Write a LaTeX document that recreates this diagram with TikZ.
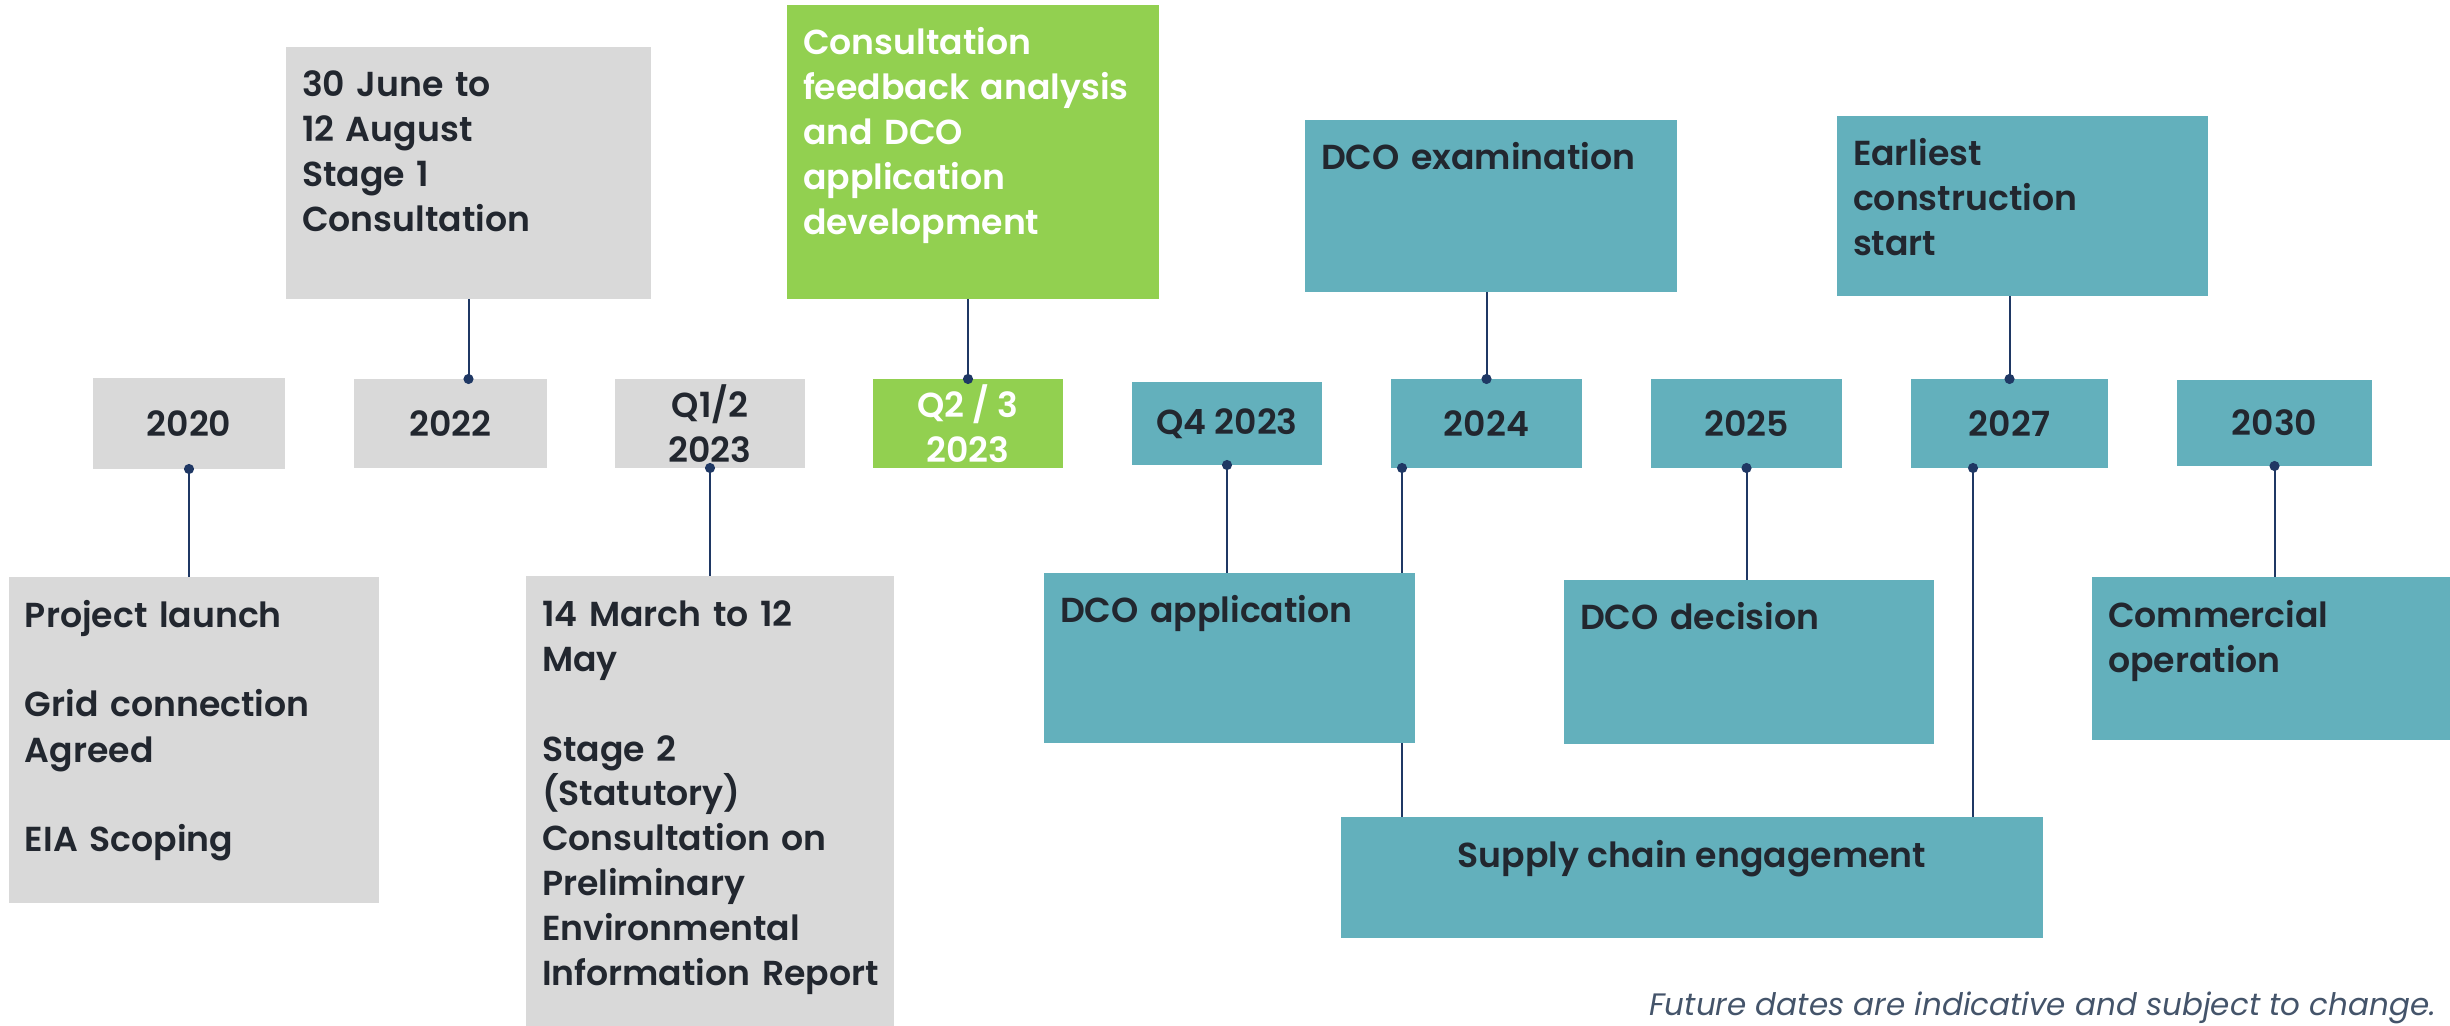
\documentclass[tikz,border=0pt]{standalone}
\usepackage{fontspec}
\setmainfont{Poppins}[BoldFont={Poppins SemiBold}]
\usetikzlibrary{arrows.meta}
\definecolor{paper}{HTML}{D9D9D9}
\definecolor{sea}{HTML}{63B0BC}
\definecolor{leaf}{HTML}{92D050}
\definecolor{ink}{HTML}{22272F}
\definecolor{navy}{HTML}{1F3864}
\definecolor{note}{HTML}{44546A}
\tikzset{every node/.style={inner sep=0pt, outer sep=0pt}}

\begin{document}
\begin{tikzpicture}[
            x=0.3pt, y=-0.3pt,
            font=\fontsize{10.4}{13.5}\selectfont\bfseries,
            card/.style 2 args={anchor=north west, minimum width=#1*0.3pt, minimum height=#2*0.3pt},
            greycard/.style={fill=paper, text=ink},
            seacard/.style={fill=sea, text=ink},
            leafcard/.style={fill=leaf, text=white},
            year/.style={align=center},
            txt/.style={anchor=base west, align=left, text width=115pt},
            tie/.style={draw=navy, line width=0.6pt},
            dotdown/.style={{Circle[length=3pt]}-, shorten <=-1.5pt},
            dotup/.style={-{Circle[length=3pt]}, shorten >=-1.5pt}
            ]
            \useasboundingbox (0,0) rectangle (2450,1026);

            % years
            \node[card={192}{91}, greycard, year] (y2020) at (93,378) {2020};
            \node[card={193}{89}, greycard, year] (y2022) at (354,379) {2022};
            \node[card={190}{89}, greycard, year] (yq12) at (615,379) {Q1/2\\2023};
            \node[card={190}{89}, leafcard, year] (yq23) at (873,379) {Q2 / 3\\2023};
            \node[card={190}{83}, seacard, year] (yq4) at (1132,382) {Q4 2023};
            \node[card={191}{89}, seacard, year] (y2024) at (1391,379) {2024};
            \node[card={191}{89}, seacard, year] (y2025) at (1651,379) {2025};
            \node[card={197}{89}, seacard, year] (y2027) at (1911,379) {2027};
            \node[card={195}{86}, seacard, year] (y2030) at (2177,380) {2030};

            % upper row
            \node[card={365}{252}, greycard] (june) at (286,47) {};
            \node[txt, text=ink] (t-june) at ([shift={(16,50)}]june.north west)
                {30 June to\\12 August\\Stage 1\\Consultation};
            \node[card={372}{294}, leafcard] (consult) at (787,5) {};
            \node[txt, text=white] (t-consult) at ([shift={(16,50)}]consult.north west)
                {Consultation\\feedback analysis\\and DCO\\application\\development};
            \node[card={372}{172}, seacard] (exam) at (1305,120) {};
            \node[txt, text=ink] (t-exam) at ([shift={(16,50)}]exam.north west) {DCO examination};
            \node[card={371}{180}, seacard] (earliest) at (1837,116) {};
            \node[txt, text=ink] (t-earliest) at ([shift={(16,50)}]earliest.north west)
                {Earliest\\construction\\start};

            % supply chain sits behind the DCO application box
            \node[card={702}{121}, seacard] (supply) at (1341,817) {};
            \node[anchor=base, text=ink] (t-supply) at ([shift={(0,50)}]supply.north) {Supply chain engagement};
            \coordinate (tap24) at ([xshift=3.3pt]y2024.south west);
            \coordinate (tap27) at ([xshift=18.6pt]y2027.south west);
            \draw[tie, dotdown] (tap24) -- (tap24 |- supply.north);

            % lower row
            \node[card={370}{326}, greycard] (launch) at (9,577) {};
            \node[txt, text=ink] (t-launch) at ([shift={(16,50)}]launch.north west)
                {Project launch\\[13.5pt]Grid connection\\Agreed\\[13.5pt]EIA Scoping};
            \node[card={368}{450}, greycard] (march) at (526,576) {};
            \node[txt, text=ink] (t-march) at ([shift={(16,50)}]march.north west)
                {14 March to 12\\May\\[13.5pt]Stage 2\\(Statutory)\\Consultation on\\Preliminary\\Environmental\\Information Report};
            \node[card={371}{170}, seacard] (dcoapp) at (1044,573) {};
            \node[txt, text=ink] (t-dcoapp) at ([shift={(16,50)}]dcoapp.north west) {DCO application};
            \node[card={370}{164}, seacard] (decision) at (1564,580) {};
            \node[txt, text=ink] (t-decision) at ([shift={(16,50)}]decision.north west) {DCO decision};
            \node[card={358}{163}, seacard] (commercial) at (2092,577) {};
            \node[txt, text=ink] (t-commercial) at ([shift={(16,50)}]commercial.north west)
                {Commercial\\operation};

            % connectors
            \draw[tie, dotup] (june.south) -- (june.south |- y2022.north);
            \draw[tie, dotup] (yq23.north |- consult.south) -- (yq23.north);
            \draw[tie, dotup] (y2024.north |- exam.south) -- (y2024.north);
            \draw[tie, dotup] (y2027.north |- earliest.south) -- (y2027.north);
            \draw[tie, dotdown] (y2020.south) -- (y2020.south |- launch.north);
            \draw[tie, dotdown] (yq12.south) -- (yq12.south |- march.north);
            \draw[tie, dotdown] (yq4.south) -- (yq4.south |- dcoapp.north);
            \draw[tie, dotdown] (y2025.south) -- (y2025.south |- decision.north);
            \draw[tie, dotdown] (tap27) -- (tap27 |- supply.north);
            \draw[tie, dotdown] (y2030.south) -- (y2030.south |- commercial.north);

            \node[anchor=base east, font=\fontsize{9.3}{11}\selectfont\itshape, text=note] (remark)
                at (2436,1015) {Future dates are indicative and subject to change.};
\end{tikzpicture}
\end{document}
